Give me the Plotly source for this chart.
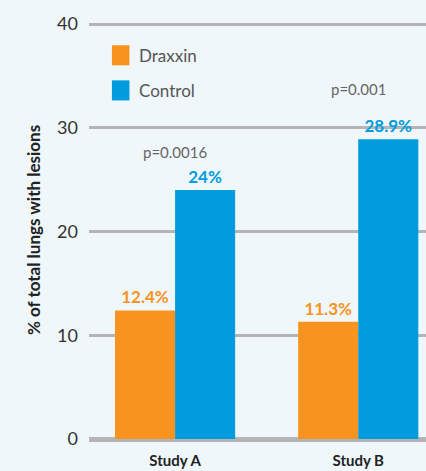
import plotly.graph_objects as go

categories = ["Study A", "Study B"]
series_names = ["Draxxin", "Control"]
draxxin_values = [12.4, 11.3]
control_values = [24.0, 28.9]
draxxin_labels = ["12.4%", "11.3%"]
control_labels = ["24%", "28.9%"]
p_values = ["p=0.0016", "p=0.001"]
p_value_y = [27.7, 33.7]
y_ticks = [0, 10, 20, 30, 40]

ORANGE = "#F7931E"
BLUE = "#009CDE"
BG = "#F0F7FA"
GRID = "#B3B5B7"
FONT = "Lato"

fig = go.Figure()
for name, vals, labels, color in [
    (series_names[0], draxxin_values, draxxin_labels, ORANGE),
    (series_names[1], control_values, control_labels, BLUE),
]:
    fig.add_trace(go.Bar(
        x=categories, y=vals, name=name, marker=dict(color=color, line=dict(width=0)),
        text=labels, textposition="outside", cliponaxis=False,
        textfont=dict(family=FONT, size=17, color=color, weight="bold"),
        showlegend=False, hoverinfo="skip",
    ))

for cat, txt, yy in zip(categories, p_values, p_value_y):
    fig.add_annotation(x=cat, y=yy, text=txt, showarrow=False,
                       font=dict(family=FONT, size=15, color="#666666"))

# manual legend (larger swatches)
legend_items = [(series_names[0], ORANGE, 0.918), (series_names[1], BLUE, 0.834)]
for name, color, yc in legend_items:
    fig.add_shape(type="rect", xref="paper", yref="paper",
                  x0=0.068, x1=0.120, y0=yc - 0.024, y1=yc + 0.024,
                  fillcolor=color, line=dict(width=0))
    fig.add_annotation(xref="paper", yref="paper", x=0.142, y=yc, text=name,
                       showarrow=False, xanchor="left", yanchor="middle",
                       font=dict(family=FONT, size=17, color="#555555"))

fig.update_layout(
    width=426, height=471,
    margin=dict(l=89, r=0, t=21, b=32),
    paper_bgcolor=BG, plot_bgcolor=BG,
    barmode="group", bargap=0.344, bargroupgap=0,
    xaxis=dict(range=[-0.47, 1.37], showgrid=False, zeroline=False, showline=False,
               ticks="", tickfont=dict(family=FONT, size=15, color="#222222", weight="bold"),
               ticklabelstandoff=11, fixedrange=True),
    yaxis=dict(range=[0, 40.3], tickvals=y_ticks, showgrid=True, gridcolor=GRID, gridwidth=2.5,
               zeroline=True, zerolinecolor=GRID, zerolinewidth=5, showline=False, ticks="",
               tickfont=dict(family=FONT, size=18, color="#333333"),
               ticklabelstandoff=10,
               title=dict(text="% of total lungs with lesions", standoff=12,
                          font=dict(family=FONT, size=17, color="#222222", weight="bold")),
               fixedrange=True),
    font=dict(family=FONT),
)

fig.write_html("out.html", config={"displayModeBar": False},
               post_script="document.body.style.margin='0';document.body.style.overflow='hidden';")
